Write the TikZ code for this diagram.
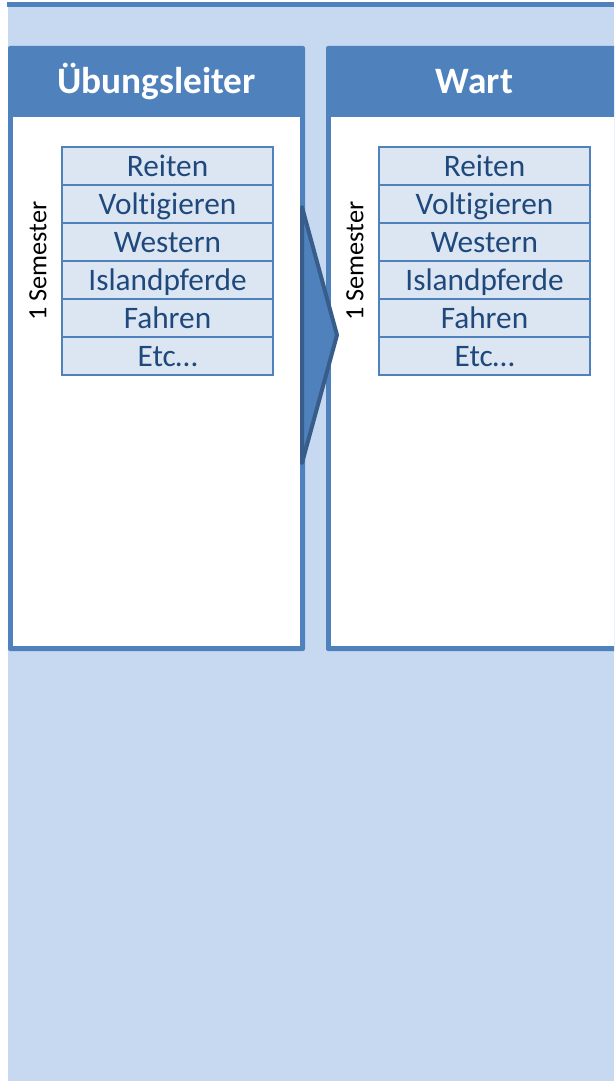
\documentclass[tikz,border=0pt]{standalone}
\usepackage{fontspec}
\setmainfont{Carlito}[Ligatures=NoCommon]
\usetikzlibrary{positioning}
\definecolor{bgblue}{HTML}{C6D9F0}
\definecolor{panelblue}{HTML}{4F81BD}
\definecolor{itemblue}{HTML}{DCE6F2}
\definecolor{itemtext}{HTML}{1F497D}
\definecolor{arrowline}{HTML}{385D8A}

\begin{document}
\begin{tikzpicture}[
    x=1pt, y=-1pt,
    panel/.style={fill=panelblue, rounded corners=2pt},
    inner/.style={fill=white},
    head/.style={text=white, inner sep=0pt,
        font=\fontsize{37.3}{40}\selectfont\bfseries,
        text height=24pt, text depth=0pt},
    item/.style={draw=panelblue, line width=1.8pt, fill=itemblue,
        text=itemtext, minimum width=211pt, minimum height=38pt,
        inner sep=0pt, outer sep=0pt, text height=20pt, text depth=0pt,
        font=\fontsize{31.3}{34}\selectfont},
    term/.style={rotate=90, inner sep=0pt, font=\fontsize{26.3}{28}\selectfont},
 ]
    \useasboundingbox (0,0) rectangle (614,1081);
    \fill[bgblue] (8,6) rectangle (614,1081);
    \draw[panelblue, line width=4.5pt] (7,4.5) -- (614,4.5);

    % first panel
    \fill[panel] (8,46) rectangle (305,651);
    \fill[inner] (13,117) rectangle (300,646);
    \node[head] at (156.5,81.5) (H1) {Übungsleiter};
    \node[term] at (38,261) (S1) {1 Semester};
    \node[item] at (167.5,166) (Rei1) {Reiten};
    \node[item, below=0pt of Rei1] (Vol1) {Voltigieren};
    \node[item, below=0pt of Vol1] (Wes1) {Western};
    \node[item, below=0pt of Wes1] (Isl1) {Islandpferde};
    \node[item, below=0pt of Isl1] (Fah1) {Fahren};
    \node[item, below=0pt of Fah1] (Etc1) {Etc…};

    % second panel, cut at the right edge
    \begin{scope}
        \clip (0,0) rectangle (614,1081);
        \fill[panel] (326,46) rectangle (623,651);
        \fill[inner] (331,117) rectangle (618,646);
    \end{scope}
    \node[head] at (474.5,81.5) (H2) {Wart};
    \node[term] at (355,261) (S2) {1 Semester};
    \node[item] at (484.5,166) (Rei2) {Reiten};
    \node[item, below=0pt of Rei2] (Vol2) {Voltigieren};
    \node[item, below=0pt of Vol2] (Wes2) {Western};
    \node[item, below=0pt of Wes2] (Isl2) {Islandpferde};
    \node[item, below=0pt of Isl2] (Fah2) {Fahren};
    \node[item, below=0pt of Fah2] (Etc2) {Etc…};

    % chevron between the panels
    \filldraw[fill=panelblue, draw=arrowline, line width=4pt, line join=round]
        (302,207) -- (337,335) -- (302,463) -- cycle;
\end{tikzpicture}
\end{document}
